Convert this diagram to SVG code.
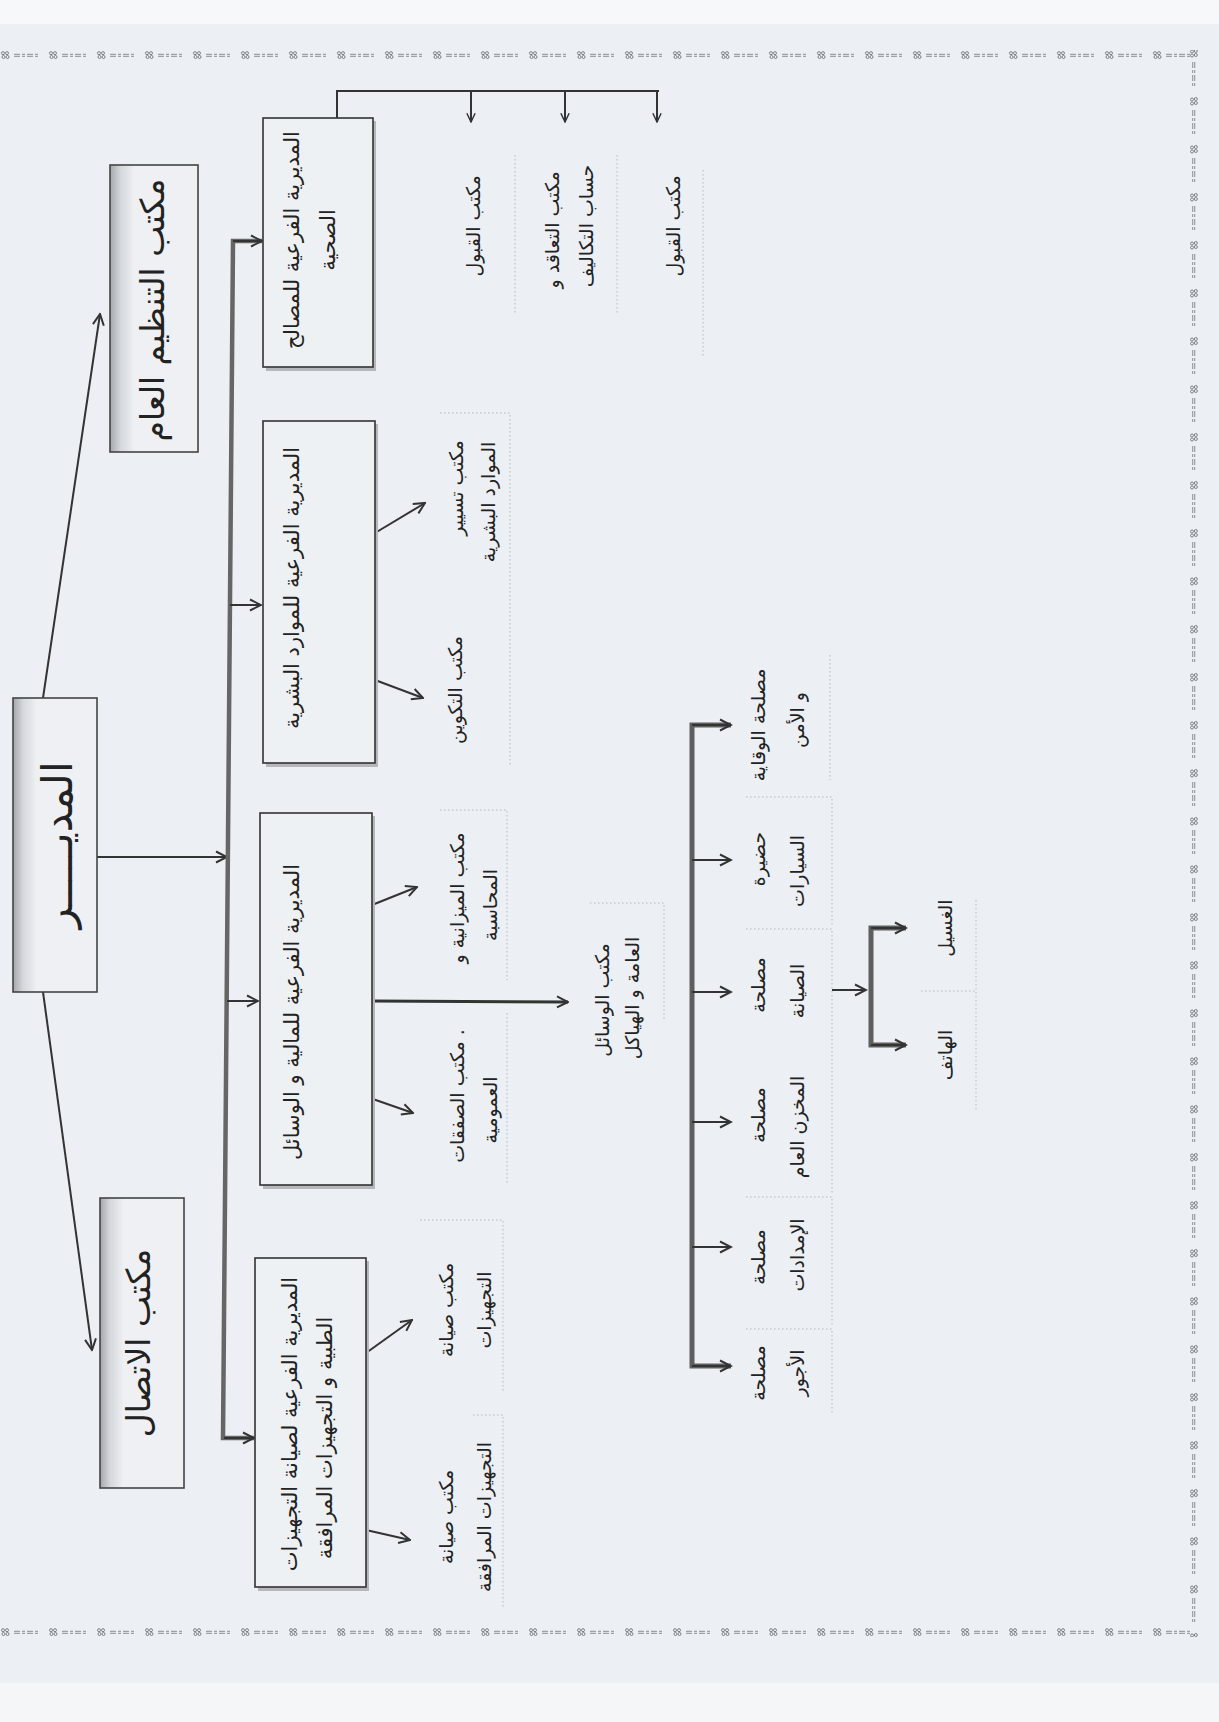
<svg xmlns="http://www.w3.org/2000/svg" width="1219" height="1722" viewBox="0 0 1219 1722">
<style>
.box{fill:#eef1f4;stroke:#333;stroke-width:1.6}
.sh{fill:#b4b8bd}
.tb{fill:url(#tg);stroke:#444;stroke-width:1.6}
.t{font-family:'DejaVu Sans',sans-serif;fill:#222;text-anchor:middle;dominant-baseline:central}
.s17{font-size:19px}
.s18{font-size:21px}
.s30{font-size:33px}
.s36{font-size:42px}
.ln{stroke:#333;stroke-width:2;fill:none}
.lnb{stroke:#333;stroke-width:3;fill:none}
.bus{stroke:#666;stroke-width:4.5;fill:none}
.bus2{stroke:#5e5e5e;stroke-width:5;fill:none}
.dot{stroke:#b3b8bf;stroke-width:1;stroke-dasharray:1.5 2.5;fill:none}
.bd{stroke:#7d848c;stroke-width:0.9;fill:none}
.bc{stroke:#6f767e;stroke-width:0.9;fill:none}
</style>
<defs>
<linearGradient id="tg" x1="0" y1="0" x2="1" y2="0">
<stop offset="0" stop-color="#a3a7ac"/>
<stop offset="0.12" stop-color="#d4d7db"/>
<stop offset="0.28" stop-color="#eef0f3"/>
<stop offset="1" stop-color="#eef0f3"/>
</linearGradient>
<g id="bcell">
<circle class="bc" cx="3" cy="3.2" r="1.5"/>
<circle class="bc" cx="7" cy="3.2" r="1.5"/>
<circle class="bc" cx="3.5" cy="7" r="1.5"/>
<circle class="bc" cx="7.5" cy="7" r="1.5"/>
<path class="bd" d="M14,4.3 H40 M14,6.3 H40" stroke-dasharray="6 2 3 2"/>
</g>
<pattern id="pTop" patternUnits="userSpaceOnUse" width="48" height="10" patternTransform="translate(0,50)"><use href="#bcell"/></pattern>
<pattern id="pBot" patternUnits="userSpaceOnUse" width="48" height="10" patternTransform="translate(0,1627)"><use href="#bcell"/></pattern>
<pattern id="pRight" patternUnits="userSpaceOnUse" width="48" height="10" patternTransform="translate(1199,0) rotate(90)"><use href="#bcell"/></pattern>
<marker id="ah" viewBox="0 0 14 14" refX="12.5" refY="7" markerWidth="14" markerHeight="14" markerUnits="userSpaceOnUse" orient="auto">
<path d="M1.5,1.5 L12.5,7 L1.5,12.5" fill="none" stroke="#333" stroke-width="2"/>
</marker>
<marker id="ahs" viewBox="0 0 12 12" refX="11" refY="6" markerWidth="11" markerHeight="11" markerUnits="userSpaceOnUse" orient="auto">
<path d="M1.5,1.5 L11,6 L1.5,10.5" fill="none" stroke="#333" stroke-width="1.6"/>
</marker>
</defs>

<rect x="0" y="0" width="1219" height="1722" fill="#eceff3"/>
<rect x="0" y="0" width="1219" height="24" fill="#f7f8fa"/>
<rect x="0" y="1683" width="1219" height="39" fill="#f4f6f8"/>

<g id="border">
<rect x="0" y="50" width="1199" height="10" fill="url(#pTop)"/>
<rect x="0" y="1627" width="1199" height="10" fill="url(#pBot)"/>
<rect x="1189" y="50" width="10" height="1587" fill="url(#pRight)"/>
</g>

<g id="faint">
<path class="dot" d="M515,155 V313 M617,155 V313 M703,170 V357"/>
<path class="dot" d="M440,413 H510 V767"/>
<path class="dot" d="M440,810 H507 V980 M507,1013 V1183"/>
<path class="dot" d="M590,903 H664 V1020"/>
<path class="dot" d="M420,1220 H503 V1393 M473,1415 H503 V1607"/>
<path class="dot" d="M830,655 V780 M746,797 H832 V925 M746,929 H832 V1195 M746,1197 H832 V1325 M746,1329 H832 V1415"/>
<path class="dot" d="M976,900 V1112 M921,991 H976"/>
</g>

<g id="connectors">
<path class="ln" d="M43,698 L100,314" marker-end="url(#ah)"/>
<path class="ln" d="M43,992 L92,1350" marker-end="url(#ah)"/>
<path class="ln" d="M97,857 H227" marker-end="url(#ah)"/>
<path class="bus" d="M262,241 H233 L223,1438 H254"/>
<path class="ln" d="M233,241 H262" marker-end="url(#ah)"/>
<path class="ln" d="M230,605 H261" marker-end="url(#ah)"/>
<path class="ln" d="M227,1001 H258" marker-end="url(#ah)"/>
<path class="ln" d="M224,1438 H254" marker-end="url(#ah)"/>
<path class="ln" d="M337,118 V91 H659"/>
<path class="ln" d="M471,91 V122" marker-end="url(#ahs)"/>
<path class="ln" d="M565,91 V122" marker-end="url(#ahs)"/>
<path class="ln" d="M657,91 V122" marker-end="url(#ahs)"/>
<path class="ln" d="M375,533 L425,503" marker-end="url(#ah)"/>
<path class="ln" d="M375,680 L423,698" marker-end="url(#ah)"/>
<path class="ln" d="M372,905 L417,887" marker-end="url(#ah)"/>
<path class="lnb" d="M372,1001 L568,1002" marker-end="url(#ah)"/>
<path class="ln" d="M370,1098 L413,1113" marker-end="url(#ah)"/>
<path class="ln" d="M366,1353 L412,1320" marker-end="url(#ah)"/>
<path class="ln" d="M366,1530 L410,1540" marker-end="url(#ah)"/>
<path class="bus2" d="M731,725 H692 V1366 H731"/>
<path class="ln" d="M692,725 H731" marker-end="url(#ah)"/>
<path class="ln" d="M692,860 H731" marker-end="url(#ah)"/>
<path class="ln" d="M692,992 H731" marker-end="url(#ah)"/>
<path class="ln" d="M692,1122 H731" marker-end="url(#ah)"/>
<path class="ln" d="M692,1247 H731" marker-end="url(#ah)"/>
<path class="ln" d="M692,1366 H731" marker-end="url(#ah)"/>
<path class="ln" d="M832,990 H866" marker-end="url(#ah)"/>
<path class="bus2" d="M906,928 H871 V1045 H906"/>
<path class="ln" d="M871,928 H906" marker-end="url(#ah)"/>
<path class="ln" d="M871,1045 H906" marker-end="url(#ah)"/>
</g>

<g id="director">
<rect class="tb" x="13" y="698" width="84" height="294"/>
<text class="t s36" transform="translate(57,845) rotate(-90)">المديـــــر</text>
</g>

<g id="org-office">
<rect class="tb" x="110" y="165" width="88" height="287"/>
<text class="t s30" transform="translate(152,310) rotate(-90)">مكتب التنظيم العام</text>
</g>

<g id="comm-office">
<rect class="tb" x="100" y="1198" width="84" height="290"/>
<text class="t s30" transform="translate(138,1343) rotate(-90)">مكتب الاتصال</text>
</g>

<g id="health-dir">
<rect class="sh" x="266" y="121" width="110" height="250"/>
<rect class="box" x="263" y="118" width="110" height="249"/>
<text class="t s18" transform="translate(292,240) rotate(-90)">المديرية الفرعية للمصالح</text>
<text class="t s18" transform="translate(328,240) rotate(-90)">الصحية</text>
</g>

<g id="hr-dir">
<rect class="sh" x="266" y="424" width="112" height="343"/>
<rect class="box" x="263" y="421" width="112" height="342"/>
<text class="t s18" transform="translate(292,588) rotate(-90)">المديرية الفرعية للموارد البشرية</text>
</g>

<g id="finance-dir">
<rect class="sh" x="263" y="816" width="112" height="373"/>
<rect class="box" x="260" y="813" width="112" height="372"/>
<text class="t s18" transform="translate(292,1012) rotate(-90)">المديرية الفرعية للمالية و الوسائل</text>
</g>

<g id="maint-dir">
<rect class="sh" x="258" y="1261" width="111" height="330"/>
<rect class="box" x="255" y="1258" width="111" height="329"/>
<text class="t s18" transform="translate(290,1424) rotate(-90)">المديرية الفرعية لصيانة التجهيزات</text>
<text class="t s18" transform="translate(325,1438) rotate(-90)">الطبية و التجهيزات المرافقة</text>
</g>

<g id="admission-1"><text class="t s17" transform="translate(473,226) rotate(-90)">مكتب القبول</text></g>
<g id="contracting">
<text class="t s17" transform="translate(552,230) rotate(-90)">مكتب التعاقد و</text>
<text class="t s17" transform="translate(586,226) rotate(-90)">حساب التكاليف</text>
</g>
<g id="admission-2"><text class="t s17" transform="translate(673,226) rotate(-90)">مكتب القبول</text></g>

<g id="hr-management">
<text class="t s17" transform="translate(456,488) rotate(-90)">مكتب تسيير</text>
<text class="t s17" transform="translate(488,502) rotate(-90)">الموارد البشرية</text>
</g>
<g id="training"><text class="t s17" transform="translate(455,690) rotate(-90)">مكتب التكوين</text></g>

<g id="budget">
<text class="t s17" transform="translate(457,898) rotate(-90)">مكتب الميزانية و</text>
<text class="t s17" transform="translate(490,905) rotate(-90)">المحاسبة</text>
</g>
<g id="contracts">
<text class="t s17" transform="translate(457,1096) rotate(-90)">مكتب الصفقات .</text>
<text class="t s17" transform="translate(490,1110) rotate(-90)">العمومية</text>
</g>
<g id="general-means">
<text class="t s17" transform="translate(602,1000) rotate(-90)">مكتب الوسائل</text>
<text class="t s17" transform="translate(632,998) rotate(-90)">العامة و الهياكل</text>
</g>

<g id="security">
<text class="t s17" transform="translate(758,725) rotate(-90)">مصلحة الوقاية</text>
<text class="t s17" transform="translate(797,720) rotate(-90)">و الأمن</text>
</g>
<g id="garage">
<text class="t s17" transform="translate(758,859) rotate(-90)">حضيرة</text>
<text class="t s17" transform="translate(797,871) rotate(-90)">السيارات</text>
</g>
<g id="maintenance-svc">
<text class="t s17" transform="translate(758,985) rotate(-90)">مصلحة</text>
<text class="t s17" transform="translate(797,991) rotate(-90)">الصيانة</text>
</g>
<g id="store">
<text class="t s17" transform="translate(758,1115) rotate(-90)">مصلحة</text>
<text class="t s17" transform="translate(797,1127) rotate(-90)">المخزن العام</text>
</g>
<g id="supplies">
<text class="t s17" transform="translate(758,1257) rotate(-90)">مصلحة</text>
<text class="t s17" transform="translate(797,1255) rotate(-90)">الإمدادات</text>
</g>
<g id="wages">
<text class="t s17" transform="translate(758,1373) rotate(-90)">مصلحة</text>
<text class="t s17" transform="translate(797,1373) rotate(-90)">الأجور</text>
</g>
<g id="laundry"><text class="t s17" transform="translate(945,928) rotate(-90)">الغسيل</text></g>
<g id="phone"><text class="t s17" transform="translate(945,1055) rotate(-90)">الهاتف</text></g>

<g id="equip-maint">
<text class="t s17" transform="translate(446,1310) rotate(-90)">مكتب صيانة</text>
<text class="t s17" transform="translate(484,1310) rotate(-90)">التجهيزات</text>
</g>
<g id="aux-equip-maint">
<text class="t s17" transform="translate(446,1517) rotate(-90)">مكتب صيانة</text>
<text class="t s17" transform="translate(484,1517) rotate(-90)">التجهيزات المرافقة</text>
</g>
</svg>
